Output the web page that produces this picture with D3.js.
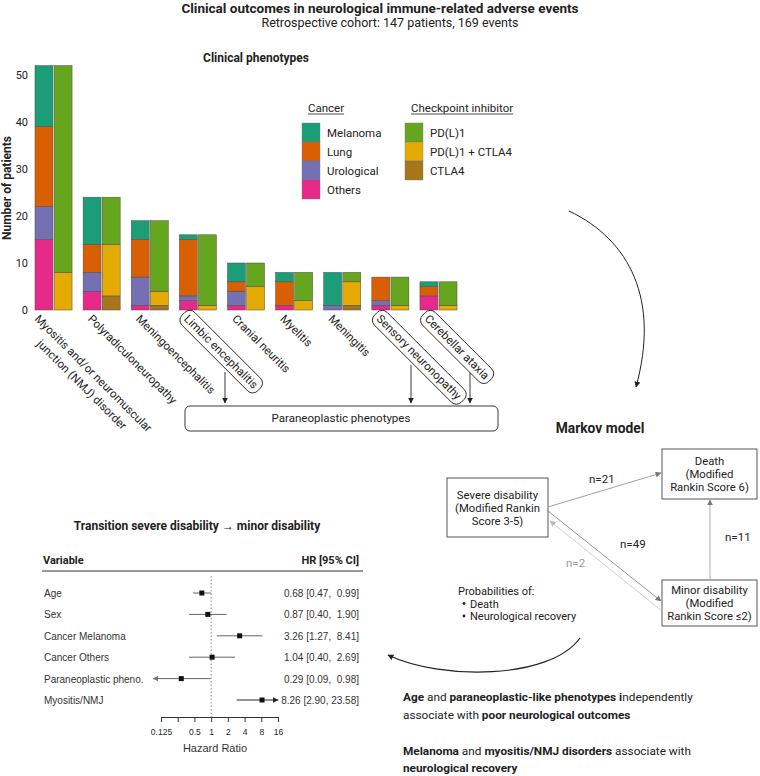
<!DOCTYPE html>
<html lang="en">
<head>
<meta charset="UTF-8" />
<title>Neurological immune-related adverse events</title>
<style>
  body { margin: 0; background: #fff; }
  text { font-family: Roboto, "Noto Sans", sans-serif; fill: #222; }
  .plain { font-family: "Liberation Sans", Arial, sans-serif; }
</style>
</head>
<body>
<script src="https://cdn.jsdelivr.net/npm/d3@7"></script>
<div id="app"></div>
<script>
// ---- data: clinical phenotypes ----
const phenotypes = ["Myositis and/or neuromuscular junction (NMJ) disorder", "Polyradiculoneuropathy",
  "Meningoencephalitis", "Limbic encephalitis", "Cranial neuritis", "Myelitis", "Meningitis",
  "Sensory neuronopathy", "Cerebellar ataxia"];
const paraneoplastic = ["Limbic encephalitis", "Sensory neuronopathy", "Cerebellar ataxia"];
const melanoma   = [13, 10, 4, 1, 4, 2, 7, 0, 1];
const lung       = [17, 6, 8, 12, 2, 5, 0, 5, 2];
const urological = [7, 4, 6, 1, 3, 0, 1, 1, 0];
const others     = [15, 4, 1, 2, 1, 1, 0, 1, 3];
const pdl1       = [44, 10, 15, 15, 5, 6, 2, 6, 5];
const pdl1Ctla4  = [8, 11, 3, 1, 5, 2, 5, 1, 1];
const ctla4      = [0, 3, 1, 0, 0, 0, 1, 0, 0];
const yTicks = [0, 10, 20, 30, 40, 50];

// ---- data: forest plot ----
const variables = ["Age", "Sex", "Cancer Melanoma", "Cancer Others", "Paraneoplastic pheno.", "Myositis/NMJ"];
const hr    = [0.68, 0.87, 3.26, 1.04, 0.29, 8.26];
const lower = [0.47, 0.40, 1.27, 0.40, 0.09, 2.90];
const upper = [0.99, 1.90, 8.41, 2.69, 0.98, 23.58];
const hrTicks = [0.125, 0.25, 0.5, 1, 2, 4, 8, 16];

// ---- data: markov transitions ----
const transitions = [
  {from: "severe", to: "death", n: 21},
  {from: "severe", to: "minor", n: 49},
  {from: "minor", to: "severe", n: 2},
  {from: "minor", to: "death", n: 11}
];

const cancerKeys = ["Others", "Urological", "Lung", "Melanoma"];
const iciKeys = ["CTLA4", "PD(L)1 + CTLA4", "PD(L)1"];
const colors = {
  "Melanoma": "#1b9e77", "Lung": "#d95f02", "Urological": "#7570b3", "Others": "#e7298a",
  "PD(L)1": "#66a61e", "PD(L)1 + CTLA4": "#e6ab02", "CTLA4": "#a6761d"
};

const W = 760, H = 776;
const svg = d3.select("#app").append("svg").attr("width", W).attr("height", H);

const defs = svg.append("defs");
[["arr-dark", "#222"], ["arr-gray", "#777"], ["arr-light", "#bbb"]].forEach(([id, c]) => {
  defs.append("marker").attr("id", id).attr("viewBox", "0 0 10 10")
    .attr("refX", 9).attr("refY", 5).attr("markerWidth", 6).attr("markerHeight", 6)
    .attr("markerUnits", "userSpaceOnUse").attr("orient", "auto")
    .append("path").attr("d", "M0,0L10,5L0,10z").attr("fill", c);
});

// titles
svg.append("text").attr("x", 380).attr("y", 13).attr("text-anchor", "middle")
  .style("font-size", "13.5px").style("font-weight", "bold")
  .text("Clinical outcomes in neurological immune-related adverse events");
svg.append("text").attr("x", 390).attr("y", 27).attr("text-anchor", "middle")
  .style("font-size", "12.5px")
  .text("Retrospective cohort: 147 patients, 169 events");
svg.append("text").attr("x", 256).attr("y", 62).attr("text-anchor", "middle")
  .style("font-size", "12px").style("font-weight", "bold")
  .text("Clinical phenotypes");

// ---- stacked bars ----
const rows = phenotypes.map((p, i) => ({
  phenotype: p, "Melanoma": melanoma[i], "Lung": lung[i], "Urological": urological[i], "Others": others[i],
  "PD(L)1": pdl1[i], "PD(L)1 + CTLA4": pdl1Ctla4[i], "CTLA4": ctla4[i]
}));

const x0 = d3.scaleBand().domain(phenotypes).range([35, 457]).paddingInner(0.23).paddingOuter(0);
const x1 = d3.scaleBand().domain(["cancer", "ici"]).range([0, x0.bandwidth()]).paddingInner(0.06);
const y = d3.scaleLinear().domain([0, 50]).range([310, 75]);

const yAxis = svg.append("g").attr("transform", "translate(28,0)")
  .call(d3.axisLeft(y).tickValues(yTicks).tickSize(0).tickPadding(0));
yAxis.select(".domain").remove();
yAxis.selectAll("text").style("font-size", "11px").style("font-family", "Roboto").attr("fill", "#333");

svg.append("text").attr("transform", "translate(11,188) rotate(-90)").attr("text-anchor", "middle")
  .style("font-size", "12px").style("font-weight", "bold").text("Number of patients");

function drawStack(keys, which) {
  const series = d3.stack().keys(keys)(rows);
  svg.append("g").selectAll("g").data(series).join("g")
    .attr("fill", s => colors[s.key])
    .selectAll("rect").data(s => s.filter(d => d[1] > d[0])).join("rect")
    .attr("x", d => x0(d.data.phenotype) + x1(which))
    .attr("y", d => y(d[1]))
    .attr("width", x1.bandwidth())
    .attr("height", d => y(d[0]) - y(d[1]))
    .attr("stroke", "#4a4a4a").attr("stroke-width", 0.5);
}
drawStack(cancerKeys, "cancer");
drawStack(iciKeys, "ici");

// rotated x labels
const labels = svg.append("g").attr("fill", "#222");
phenotypes.forEach((p, i) => {
  const cx = x0(p) + x0.bandwidth() / 2;
  const g = labels.append("g").attr("transform", `translate(${cx - (i === 0 ? 13 : 8)},313) rotate(45)`);
  if (i === 0) {
    const t1 = g.append("text").attr("dy", "0.8em").attr("fill", "#222").style("font-size", "11.5px")
      .text("Myositis and/or neuromuscular");
    const t2 = g.append("text").attr("dy", "2.2em").attr("fill", "#222").style("font-size", "11.5px")
      .text("junction (NMJ) disorder");
    const l1 = t1.node().getComputedTextLength(), l2 = t2.node().getComputedTextLength();
    t2.attr("x", (l1 - l2) / 2);
  } else {
    const t = g.append("text").attr("dy", "0.8em").attr("fill", "#222").style("font-size", "11.5px").text(p);
    if (paraneoplastic.includes(p)) {
      const b = t.node().getBBox();
      g.insert("rect", "text").attr("x", b.x - 4).attr("y", b.y - 2)
        .attr("width", b.width + 8).attr("height", b.height + 4)
        .attr("rx", 7).attr("fill", "none").attr("stroke", "#222").attr("stroke-width", 0.9);
    }
  }
});

// paraneoplastic grouping box + arrows
svg.append("rect").attr("x", 185).attr("y", 406).attr("width", 313).attr("height", 25).attr("rx", 5)
  .attr("fill", "none").attr("stroke", "#222").attr("stroke-width", 0.9);
svg.append("text").attr("x", 341).attr("y", 422).attr("text-anchor", "middle")
  .style("font-size", "11.5px").text("Paraneoplastic phenotypes");
[[225, 372], [411, 365], [470, 373]].forEach(([ax, ay]) => {
  svg.append("line").attr("x1", ax).attr("x2", ax).attr("y1", ay).attr("y2", 403)
    .attr("stroke", "#222").attr("stroke-width", 0.9).attr("marker-end", "url(#arr-dark)");
});

// legends
function legend(title, keys, lx, ly) {
  const t = svg.append("text").attr("x", lx + 6).attr("y", ly).style("font-size", "11.5px").text(title);
  const len = t.node().getComputedTextLength();
  svg.append("line").attr("x1", lx + 6).attr("x2", lx + 6 + len).attr("y1", ly + 2).attr("y2", ly + 2)
    .attr("stroke", "#222").attr("stroke-width", 0.8);
  keys.forEach((k, i) => {
    svg.append("rect").attr("x", lx).attr("y", ly + 11 + i * 19).attr("width", 18).attr("height", 19)
      .attr("fill", colors[k]).attr("stroke", "#777").attr("stroke-width", 0.4);
    svg.append("text").attr("x", lx + 25).attr("y", ly + 25 + i * 19).style("font-size", "11.5px").text(k);
  });
}
legend("Cancer", ["Melanoma", "Lung", "Urological", "Others"], 302, 112);
legend("Checkpoint inhibitor", ["PD(L)1", "PD(L)1 + CTLA4", "CTLA4"], 405, 112);

// curved connectors
svg.append("path").attr("d", "M569,211 C630,240 660,300 636,387").attr("fill", "none")
  .attr("stroke", "#222").attr("stroke-width", 1).attr("marker-end", "url(#arr-dark)");
svg.append("path").attr("d", "M580,638 C550,680 440,680 388,655").attr("fill", "none")
  .attr("stroke", "#222").attr("stroke-width", 1.2).attr("marker-end", "url(#arr-dark)");

// ---- markov model ----
svg.append("text").attr("x", 600).attr("y", 433).attr("text-anchor", "middle")
  .style("font-size", "13.8px").style("font-weight", "bold").text("Markov model");

const states = {
  severe: {x: 447, y: 478, w: 101, h: 59, lines: ["Severe disability", "(Modified Rankin", "Score 3-5)"]},
  death:  {x: 662, y: 449, w: 95,  h: 50, lines: ["Death", "(Modified", "Rankin Score 6)"]},
  minor:  {x: 662, y: 580, w: 95,  h: 46, lines: ["Minor disability", "(Modified", "Rankin Score \u22642)"]}
};
Object.values(states).forEach(s => {
  svg.append("rect").attr("x", s.x).attr("y", s.y).attr("width", s.w).attr("height", s.h)
    .attr("fill", "#fff").attr("stroke", "#444").attr("stroke-width", 0.9);
  const top = s.y + s.h / 2 - 13 + 4;
  s.lines.forEach((l, i) => {
    svg.append("text").attr("x", s.x + s.w / 2).attr("y", top + i * 13).attr("text-anchor", "middle")
      .style("font-size", "11.3px").text(l);
  });
});

const edgeGeom = {
  "severe-death": {p: [548, 507, 661, 473], label: [589, 483], color: "#888", marker: "arr-gray"},
  "severe-minor": {p: [548, 511, 661, 601], label: [620, 548], color: "#777", marker: "arr-gray"},
  "minor-severe": {p: [662, 611, 550, 521], label: [566, 567], color: "#c4c4c4", marker: "arr-light"},
  "minor-death":  {p: [710, 580, 710, 500], label: [725, 541], color: "#999", marker: "arr-gray"}
};
transitions.forEach(t => {
  const e = edgeGeom[t.from + "-" + t.to];
  svg.append("line").attr("x1", e.p[0]).attr("y1", e.p[1]).attr("x2", e.p[2]).attr("y2", e.p[3])
    .attr("stroke", e.color).attr("stroke-width", 0.8).attr("marker-end", `url(#${e.marker})`);
  svg.append("text").attr("x", e.label[0]).attr("y", e.label[1]).style("font-size", "11.5px")
    .style("fill", t.n === 2 ? "#999" : "#222").text("n=" + t.n);
});

svg.append("text").attr("x", 458).attr("y", 595).style("font-size", "11px").text("Probabilities of:");
["Death", "Neurological recovery"].forEach((b, i) => {
  svg.append("circle").attr("cx", 464).attr("cy", 603.5 + i * 12.5).attr("r", 1.4).attr("fill", "#222");
  svg.append("text").attr("x", 470).attr("y", 607.5 + i * 12.5).style("font-size", "11px").text(b);
});

// ---- conclusions ----
function richLine(parts, lx, ly) {
  const t = svg.append("text").attr("x", lx).attr("y", ly).style("font-size", "11.8px");
  parts.forEach(([s, bold]) => t.append("tspan").style("font-weight", bold ? "bold" : "normal").text(s));
}
richLine([["Age", 1], [" and ", 0], ["paraneoplastic-like phenotypes i", 1], ["ndependently", 0]], 403, 701);
richLine([["associate with ", 0], ["poor neurological outcomes", 1]], 403, 719);
richLine([["Melanoma", 1], [" and ", 0], ["myositis/NMJ disorders", 1], [" associate with", 0]], 403, 755);
richLine([["neurological recovery", 1]], 403, 772);

// ---- forest plot ----
svg.append("text").attr("x", 197).attr("y", 530).attr("text-anchor", "middle")
  .style("font-size", "12px").style("font-weight", "bold")
  .text("Transition severe disability \u2192 minor disability");
svg.append("text").attr("x", 43).attr("y", 564).style("font-size", "11px").style("font-weight", "bold").text("Variable");
svg.append("text").attr("x", 359).attr("y", 564).attr("text-anchor", "end")
  .style("font-size", "11px").style("font-weight", "bold").text("HR [95% CI]");
svg.append("line").attr("x1", 42).attr("x2", 363).attr("y1", 571).attr("y2", 571).attr("stroke", "#333").attr("stroke-width", 1);

const hrX = d3.scaleLog().base(2).domain([0.125, 16]).range([161, 278]);
const rowY = d3.scalePoint().domain(variables).range([593, 700]);

svg.append("line").attr("x1", hrX(1)).attr("x2", hrX(1)).attr("y1", 576).attr("y2", 717)
  .attr("stroke", "#888").attr("stroke-width", 1).attr("stroke-dasharray", "1.5,2");

const hrAxis = svg.append("g").attr("transform", "translate(0,717)")
  .call(d3.axisBottom(hrX).tickValues(hrTicks).tickSize(5).tickSizeOuter(0)
    .tickFormat(d => d === 0.25 ? "" : String(d)));
hrAxis.selectAll("text").attr("class", "plain").style("font-size", "8.5px").attr("fill", "#444").attr("dy", "1.2em");
hrAxis.selectAll("line, path").attr("stroke", "#333");
svg.append("text").attr("class", "plain").attr("x", 215).attr("y", 752).attr("text-anchor", "middle")
  .style("font-size", "11px").style("fill", "#333").text("Hazard Ratio");

const f = d3.format(".2f");
variables.forEach((v, i) => {
  const yy = rowY(v);
  svg.append("text").attr("class", "plain").attr("x", 44).attr("y", yy + 4).style("font-size", "10px")
    .style("fill", "#333").text(v);
  const lo = lower[i], hi = Math.min(upper[i], 16);
  svg.append("line").attr("x1", hrX(lo)).attr("x2", hrX(hi)).attr("y1", yy).attr("y2", yy)
    .attr("stroke", i === 5 ? "#222" : "#666").attr("stroke-width", 1)
    .attr("marker-end", upper[i] > 16 ? "url(#arr-dark)" : null);
  if (lo < 0.125) {
    svg.append("line").attr("x1", hrX(lo) + 4).attr("x2", hrX(lo)).attr("y1", yy).attr("y2", yy)
      .attr("stroke", "#666").attr("marker-end", "url(#arr-gray)");
  }
  svg.append("rect").attr("x", hrX(hr[i]) - 2.5).attr("y", yy - 2.5).attr("width", 5).attr("height", 5).attr("fill", "#111");
  svg.append("text").attr("class", "plain").attr("x", 359).attr("y", yy + 4).attr("text-anchor", "end")
    .style("font-size", "10px").style("white-space", "pre").style("fill", "#333")
    .text(`${f(hr[i])} [${f(lower[i])}, ${f(upper[i]).padStart(5)}]`);
});
</script>
</body>
</html>
